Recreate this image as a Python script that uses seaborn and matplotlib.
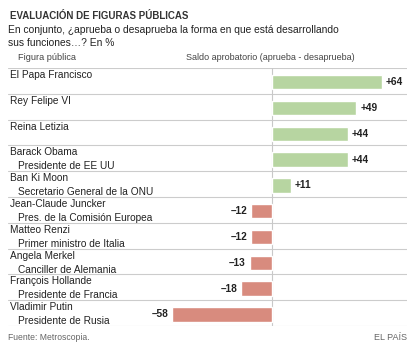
import matplotlib
matplotlib.use("Agg")
import matplotlib.pyplot as plt
import seaborn as sns
import pandas as pd
from matplotlib import transforms

names = ["El Papa Francisco", "Rey Felipe VI", "Reina Letizia", "Barack Obama",
         "Ban Ki Moon", "Jean-Claude Juncker", "Matteo Renzi", "Angela Merkel",
         "François Hollande", "Vladimir Putin"]
roles = ["", "", "", "Presidente de EE UU", "Secretario General de la ONU",
         "Pres. de la Comisión Europea", "Primer ministro de Italia",
         "Canciller de Alemania", "Presidente de Francia", "Presidente de Rusia"]
values = [64, 49, 44, 44, 11, -12, -12, -13, -18, -58]

GREEN = "#b7d5a1"
RED = "#d88b7e"

W, H = 414, 349
sns.set_theme(style="white")
plt.rcParams['font.family'] = ['Liberation Sans', 'DejaVu Sans']

fig = plt.figure(figsize=(W / 100, H / 100), dpi=100)

def fx(px):
    return px / W

def fy(py):
    return 1 - py / H

# axes area in pixels
L, R, T, B = 8, 407, 68, 326
ax = fig.add_axes([fx(L), fy(B), fx(R - L), (B - T) / H])
ZERO = 272
SCALE = 110 / 64  # px per unit
ax.set_xlim((L - ZERO) / SCALE, (R - ZERO) / SCALE)

df = pd.DataFrame({"name": names, "value": values})
colors = [GREEN if v > 0 else RED for v in values]
sns.barplot(data=df, x="value", y="name", hue="name", palette=colors,
            orient="h", width=0.56, legend=False, ax=ax, saturation=1)
for p in ax.patches:
    p.set_y(p.get_y() + 0.05)
ax.set_ylim(len(names) - 0.5, -0.5)
ax.set_xlabel("")
ax.set_ylabel("")
ax.set_xticks([])
ax.set_yticks([])
for s in ax.spines.values():
    s.set_visible(False)

for i in range(len(names) + 1):
    ax.axhline(i - 0.5, color="#cccccc", lw=0.8, zorder=0)
ax.axvline(0, color="#c8c8c8", lw=0.8, zorder=0)

row_h = (B - T) / len(names)
tr = transforms.blended_transform_factory(ax.transAxes, ax.transData)
for i, (n, r, v) in enumerate(zip(names, roles, values)):
    top = i - 0.5
    ax.text((10 - L) / (R - L), top + 7 / row_h, n, transform=tr,
            ha="left", va="center", fontsize=7.3, color="#222222")
    if r:
        ax.text((18 - L) / (R - L), top + 21 / row_h, r, transform=tr,
                ha="left", va="center", fontsize=7.3, color="#222222")
    yc = i + 0.05
    if v > 0:
        ax.text(v + 2.3, yc, f"+{v}", ha="left", va="center",
                fontsize=7.3, fontweight="bold", color="#222222")
    else:
        ax.text(v - 2.3, yc, f"\u2013{abs(v)}", ha="right", va="center",
                fontsize=7.3, fontweight="bold", color="#222222")

fig.text(fx(10), fy(16), "EVALUACIÓN DE FIGURAS PÚBLICAS", ha="left", va="center",
         fontsize=7.0, fontweight="bold", color="#333333")
fig.text(fx(8), fy(30), "En conjunto, ¿aprueba o desaprueba la forma en que está desarrollando",
         ha="left", va="center", fontsize=7.4, color="#222222")
fig.text(fx(8), fy(43), "sus funciones…? En %", ha="left", va="center",
         fontsize=7.4, color="#222222")
fig.text(fx(18), fy(57), "Figura pública", ha="left", va="center",
         fontsize=6.6, color="#444444")
fig.text(fx(186), fy(57), "Saldo aprobatorio (aprueba - desaprueba)", ha="left",
         va="center", fontsize=6.5, color="#444444")
fig.text(fx(8), fy(338), "Fuente: Metroscopia.", ha="left", va="center",
         fontsize=6.2, color="#666666")
fig.text(fx(407), fy(338), "EL PAÍS", ha="right", va="center",
         fontsize=6.5, color="#666666")

fig.savefig("out.png", dpi=100)
